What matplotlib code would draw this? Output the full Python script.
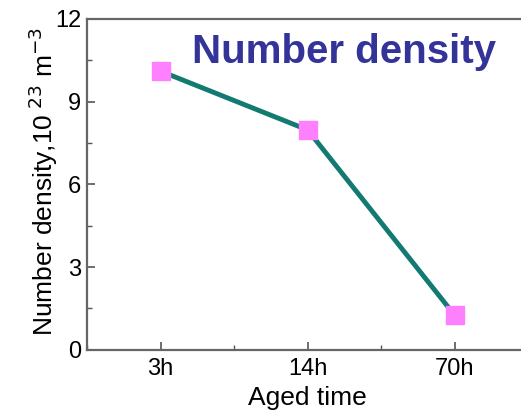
import matplotlib.pyplot as plt
from matplotlib.ticker import MultipleLocator

plt.rcParams['font.family'] = ['Liberation Sans', 'DejaVu Sans']

# Data
aged_time = ["3h", "14h", "70h"]
number_density = [10.1, 7.97, 1.25]  # 10^23 m^-3

fig = plt.figure(figsize=(5.21, 4.16), dpi=100)
ax = fig.add_axes([0.167, 0.159, 0.847, 0.796])

x = range(len(aged_time))
ax.plot(x, number_density, color="#137a72", linewidth=3.5, zorder=2)
ax.plot(x, number_density, linestyle="none", marker="s", markersize=13.5,
        markerfacecolor="#ff80ff", markeredgecolor="#ff80ff", zorder=3)

ax.set_xlim(-0.5, 2.5)
ax.set_ylim(0, 12)
ax.set_xticks(list(x))
ax.set_xticklabels(aged_time)
ax.xaxis.set_minor_locator(MultipleLocator(0.5))
ax.yaxis.set_major_locator(MultipleLocator(3))
ax.yaxis.set_minor_locator(MultipleLocator(1.5))
ax.tick_params(which="both", direction="in", labelsize=17, color="#555555")
ax.tick_params(which="major", length=6, width=1.2)
ax.tick_params(which="minor", length=3.5, width=1.0)
ax.tick_params(axis="y", pad=4)
ax.tick_params(axis="x", pad=6)
ax.spines["right"].set_visible(False)
for s in ax.spines.values():
    s.set_color("#666666")
    s.set_linewidth(1.6)

ax.set_xlabel("Aged time", fontsize=19)
ax.xaxis.set_label_coords(0.5, -0.11)
ax.set_ylabel(r"Number density,10$^{\ 23}$ m$^{-3}$", fontsize=19)
ax.yaxis.set_label_coords(-0.062, 0.51)

fig.text(0.952, 0.849, "Number density", fontsize=29, fontweight="bold",
         color="#333399", ha="right", va="baseline")

fig.savefig("out.png", dpi=100)
